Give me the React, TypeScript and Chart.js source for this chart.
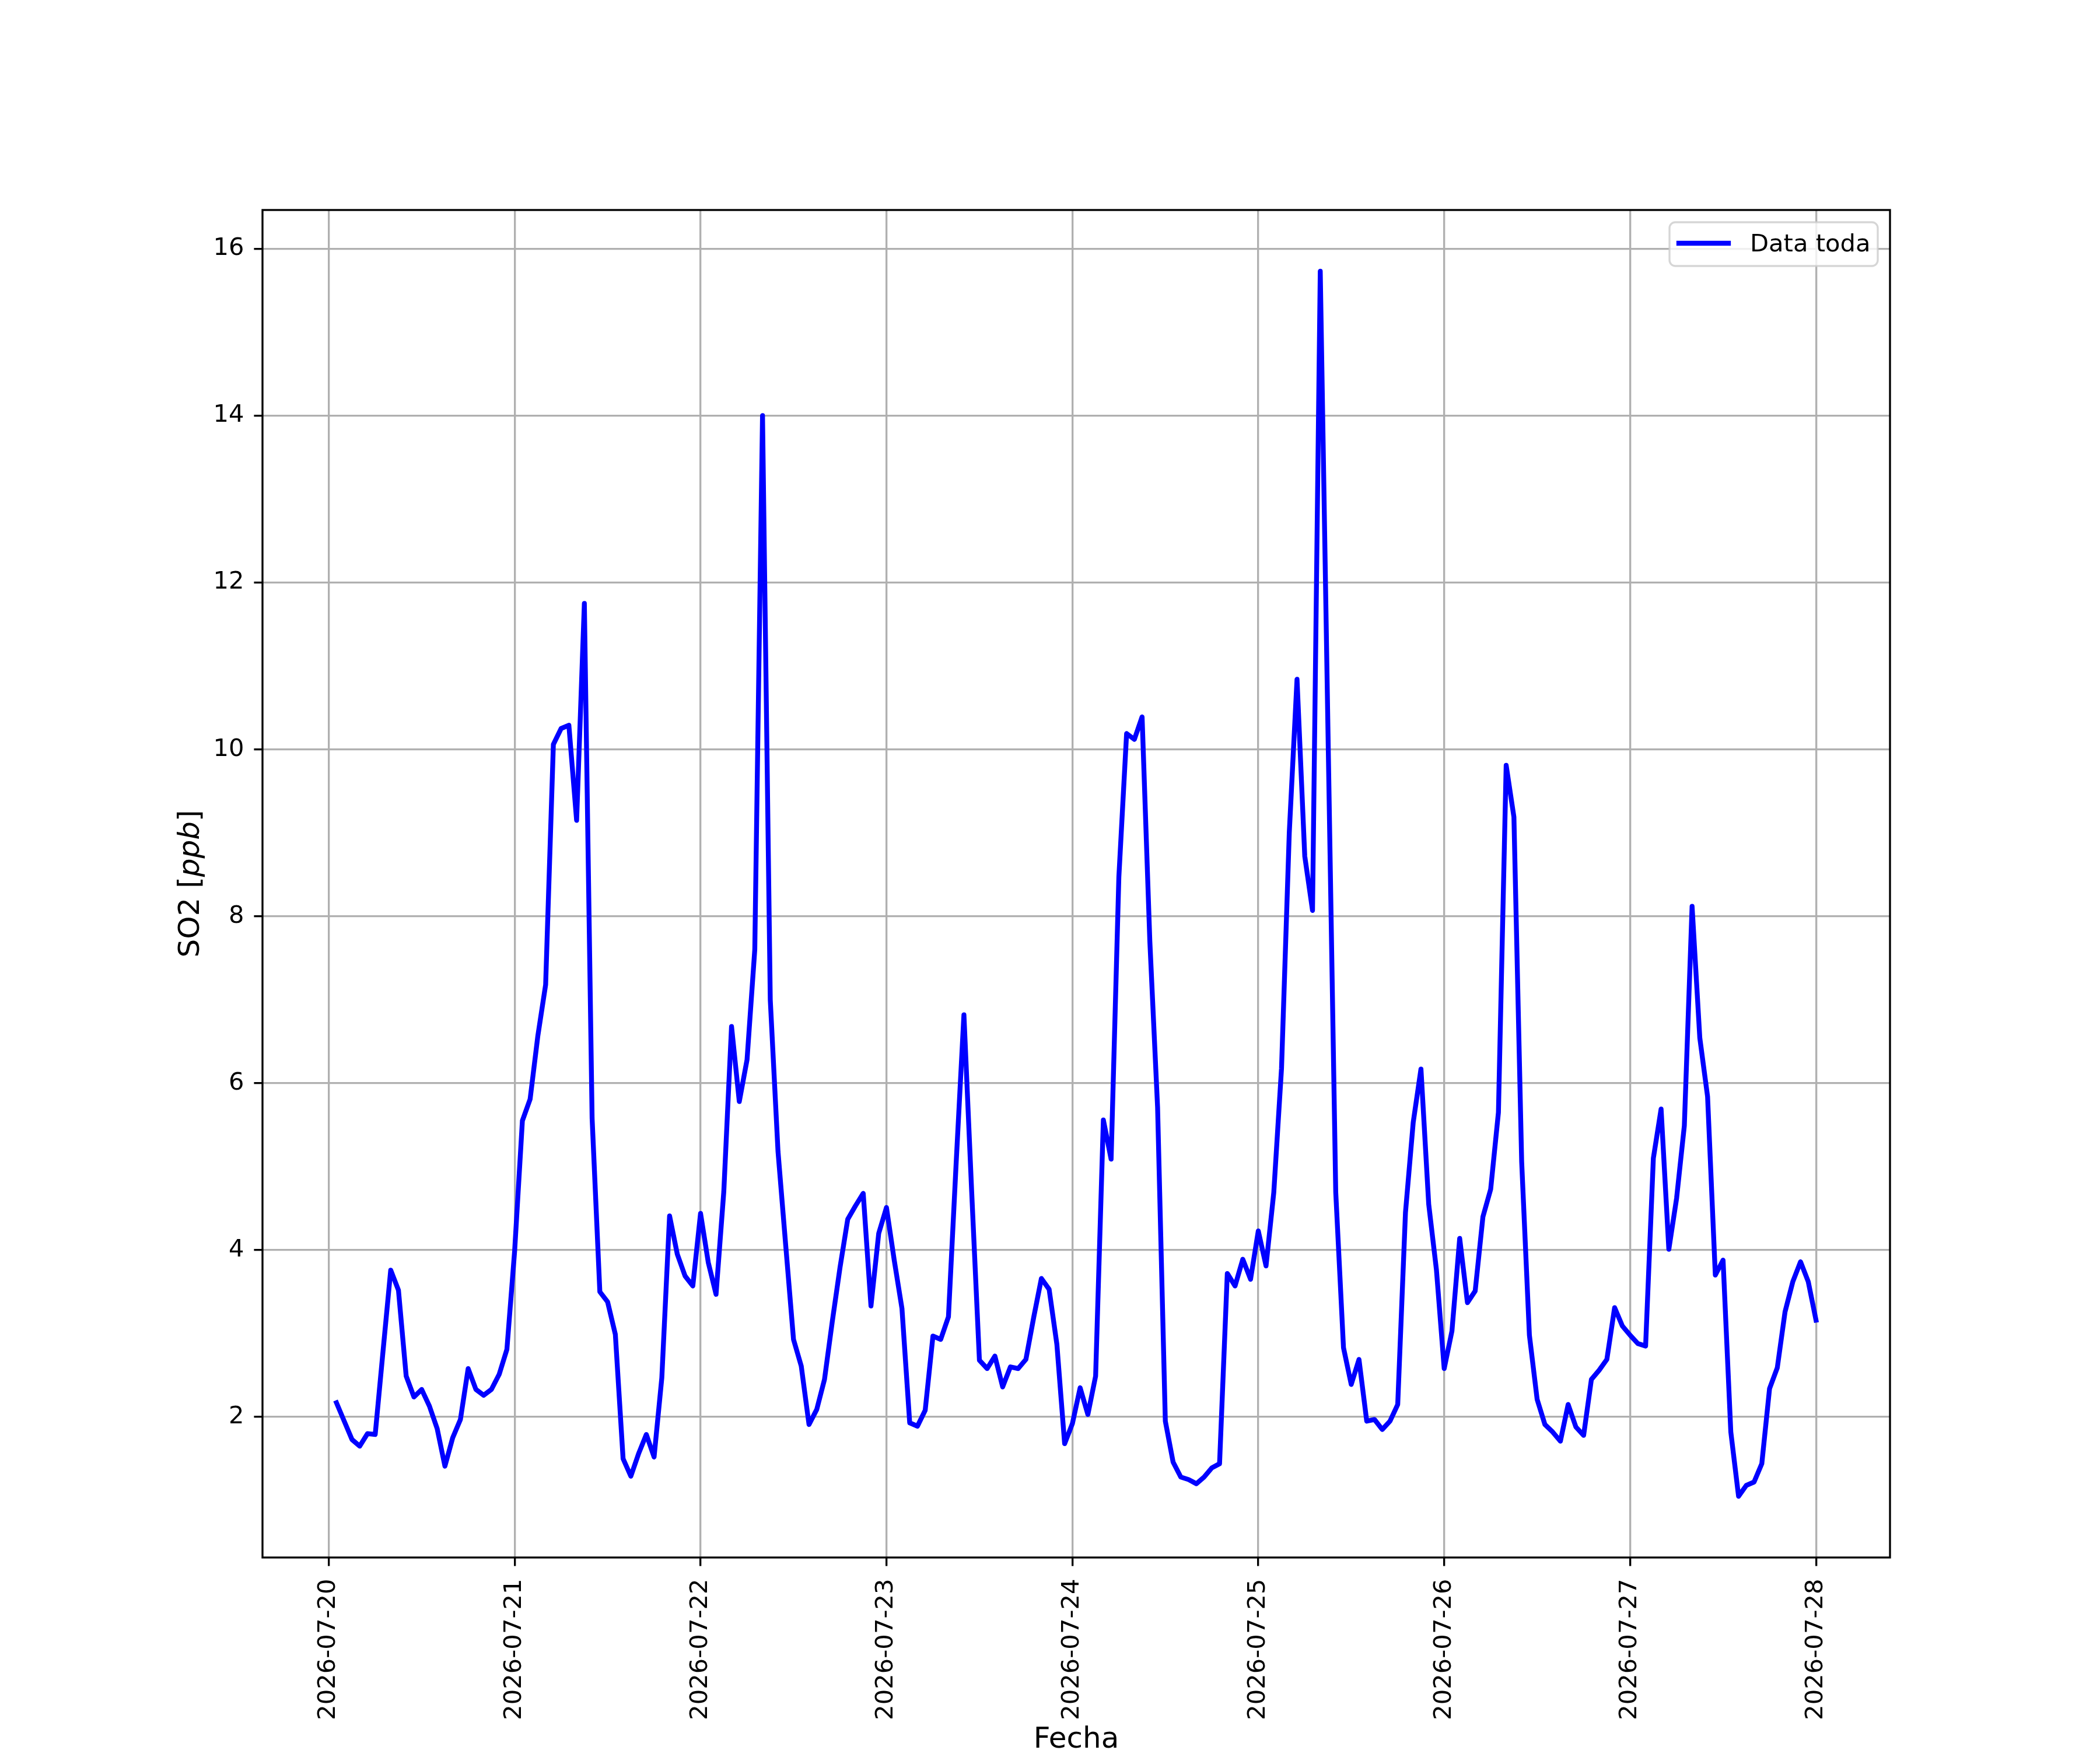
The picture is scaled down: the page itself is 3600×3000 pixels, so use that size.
import { useEffect, useRef } from 'react';
import { Chart, registerables } from 'chart.js';

Chart.register(...registerables);

// Hourly SO2 (ppb). First reading is 2026-07-20 01:00, last is 2026-07-28 00:00.
const firstHour = 1;
const so2Jul20 = [2.17, 1.95, 1.73, 1.65, 1.8, 1.79, 2.78, 3.76, 3.52, 2.49, 2.24, 2.33, 2.13, 1.86, 1.41, 1.75, 1.97, 2.58, 2.33, 2.26, 2.33, 2.51, 2.81, 3.99];
const so2Jul21 = [5.55, 5.81, 6.57, 7.18, 10.06, 10.25, 10.29, 9.15, 11.75, 5.58, 3.5, 3.38, 2.99, 1.5, 1.29, 1.56, 1.79, 1.52, 2.47, 4.41, 3.95, 3.69, 3.57, 4.44];
const so2Jul22 = [3.85, 3.47, 4.7, 6.68, 5.78, 6.28, 7.6, 14.0, 7.0, 5.18, 4.05, 2.93, 2.61, 1.91, 2.09, 2.45, 3.14, 3.79, 4.37, 4.53, 4.68, 3.33, 4.2, 4.51];
const so2Jul23 = [3.88, 3.3, 1.93, 1.89, 2.08, 2.97, 2.93, 3.2, 5.05, 6.82, 4.7, 2.68, 2.58, 2.73, 2.36, 2.6, 2.58, 2.69, 3.19, 3.66, 3.53, 2.87, 1.68, 1.92];
const so2Jul24 = [2.35, 2.03, 2.49, 5.56, 5.09, 8.47, 10.19, 10.12, 10.39, 7.7, 5.71, 1.95, 1.46, 1.28, 1.25, 1.2, 1.28, 1.39, 1.44, 3.72, 3.57, 3.89, 3.65, 4.23];
const so2Jul25 = [3.81, 4.69, 6.18, 9.0, 10.84, 8.72, 8.07, 15.73, 10.2, 4.69, 2.83, 2.39, 2.69, 1.95, 1.97, 1.85, 1.95, 2.15, 4.45, 5.53, 6.17, 4.55, 3.76, 2.58];
const so2Jul26 = [3.03, 4.14, 3.37, 3.51, 4.4, 4.73, 5.65, 9.81, 9.19, 5.06, 2.98, 2.21, 1.91, 1.82, 1.71, 2.15, 1.88, 1.78, 2.45, 2.56, 2.69, 3.31, 3.09, 2.98];
const so2Jul27 = [2.88, 2.85, 5.1, 5.69, 4.01, 4.62, 5.49, 8.12, 6.54, 5.84, 3.7, 3.88, 1.82, 1.05, 1.18, 1.22, 1.44, 2.34, 2.59, 3.26, 3.62, 3.86, 3.62, 3.16];

const dayLabels = ['2026-07-20', '2026-07-21', '2026-07-22', '2026-07-23', '2026-07-24', '2026-07-25', '2026-07-26', '2026-07-27', '2026-07-28'];
const dayTicks = [0, 24, 48, 72, 96, 120, 144, 168, 192]; // hours since 2026-07-20 00:00
const yTicks = [2, 4, 6, 8, 10, 12, 14, 16];

const seriesLabel = 'Data toda';

const so2 = [...so2Jul20, ...so2Jul21, ...so2Jul22, ...so2Jul23, ...so2Jul24, ...so2Jul25, ...so2Jul26, ...so2Jul27];

// matplotlib-ish sizes at 300 dpi
const PT = 300 / 72;
const FONT = "'DejaVu Sans', sans-serif";
const TICK_SIZE = 10 * PT;
const LABEL_SIZE = 12 * PT;
const LINE_W = 2 * PT;
const SPINE_W = 0.8 * PT;

const figurePlugin = {
  id: 'figure',
  afterDraw(chart: Chart) {
    const { ctx, chartArea } = chart;
    const { left, right, top, bottom } = chartArea;
    ctx.save();

    // spines
    ctx.strokeStyle = '#000';
    ctx.lineWidth = SPINE_W;
    ctx.strokeRect(left, top, right - left, bottom - top);

    // x label
    ctx.fillStyle = '#000';
    ctx.font = `${LABEL_SIZE}px ${FONT}`;
    ctx.textAlign = 'center';
    ctx.textBaseline = 'alphabetic';
    ctx.fillText('Fecha', (left + right) / 2, 2996);

    // y label: SO2 [ppb] with italic ppb
    const parts = [
      { t: 'SO2 [', f: `${LABEL_SIZE}px ${FONT}` },
      { t: 'ppb', f: `italic ${LABEL_SIZE}px ${FONT}` },
      { t: ']', f: `${LABEL_SIZE}px ${FONT}` },
    ];
    let total = 0;
    parts.forEach((p) => {
      ctx.font = p.f;
      total += ctx.measureText(p.t).width;
    });
    ctx.translate(341, (top + bottom) / 2);
    ctx.rotate(-Math.PI / 2);
    ctx.textAlign = 'left';
    let x = -total / 2;
    parts.forEach((p) => {
      ctx.font = p.f;
      ctx.fillText(p.t, x, 0);
      x += ctx.measureText(p.t).width;
    });
    ctx.setTransform(1, 0, 0, 1, 0, 0);

    // legend
    const bx = 2862, by = 381, bw = 357, bh = 75, r = 10;
    ctx.beginPath();
    ctx.roundRect(bx, by, bw, bh, r);
    ctx.fillStyle = 'rgba(255,255,255,0.8)';
    ctx.fill();
    ctx.strokeStyle = 'rgba(204,204,204,0.8)';
    ctx.lineWidth = SPINE_W;
    ctx.stroke();

    const ds = chart.data.datasets[0] as any;
    ctx.beginPath();
    ctx.moveTo(2878, 417);
    ctx.lineTo(2963, 417);
    ctx.strokeStyle = ds.borderColor;
    ctx.lineWidth = LINE_W;
    ctx.lineCap = 'square';
    ctx.stroke();

    ctx.fillStyle = '#000';
    ctx.font = `${TICK_SIZE}px ${FONT}`;
    ctx.textAlign = 'left';
    ctx.textBaseline = 'alphabetic';
    ctx.fillText(ds.label, 3000, 431);

    ctx.restore();
  },
};

export default function App() {
  const canvasRef = useRef<HTMLCanvasElement>(null);
  const chartRef = useRef<Chart | null>(null);

  useEffect(() => {
    if (!canvasRef.current) return;
    if (chartRef.current) chartRef.current.destroy();

    const points = so2.map((v, i) => ({ x: firstHour + i, y: v }));
    const xFirst = firstHour;
    const xLast = firstHour + so2.length - 1;
    const xPad = 0.05 * (xLast - xFirst);
    const yMinV = Math.min(...so2);
    const yMaxV = Math.max(...so2);
    const yPad = 0.05 * (yMaxV - yMinV);

    chartRef.current = new Chart(canvasRef.current, {
      type: 'line',
      data: {
        datasets: [
          {
            label: seriesLabel,
            data: points,
            borderColor: '#0000ff',
            borderWidth: LINE_W,
            pointRadius: 0,
            tension: 0,
            fill: false,
            borderCapStyle: 'square',
            borderJoinStyle: 'round',
          },
        ],
      },
      options: {
        animation: false,
        responsive: false,
        devicePixelRatio: 1,
        events: [],
        layout: { padding: { left: 0, right: 360, top: 360, bottom: 0 } },
        plugins: {
          legend: { display: false },
          tooltip: { enabled: false },
        },
        scales: {
          x: {
            type: 'linear',
            min: xFirst - xPad,
            max: xLast + xPad,
            afterFit: (scale: any) => {
              scale.height = 330;
            },
            afterBuildTicks: (scale: any) => {
              scale.ticks = dayTicks.map((value) => ({ value }));
            },
            grid: {
              color: '#b0b0b0',
              lineWidth: SPINE_W,
              tickColor: '#000',
              tickWidth: SPINE_W,
              tickLength: 3.5 * PT,
            },
            border: { display: false },
            ticks: {
              autoSkip: false,
              minRotation: 90,
              maxRotation: 90,
              padding: 22,
              color: '#000',
              font: { family: FONT, size: TICK_SIZE },
              callback: (_v: any, i: number) => dayLabels[i],
            },
          },
          y: {
            type: 'linear',
            min: yMinV - yPad,
            max: yMaxV + yPad,
            afterFit: (scale: any) => {
              scale.width = 450;
            },
            afterBuildTicks: (scale: any) => {
              scale.ticks = yTicks.map((value) => ({ value }));
            },
            grid: {
              color: '#b0b0b0',
              lineWidth: SPINE_W,
              tickColor: '#000',
              tickWidth: SPINE_W,
              tickLength: 3.5 * PT,
            },
            border: { display: false },
            ticks: {
              padding: 17,
              color: '#000',
              font: { family: FONT, size: TICK_SIZE },
              callback: (v: any) => String(v),
            },
          },
        },
      },
      plugins: [figurePlugin],
    });

    return () => {
      if (chartRef.current) {
        chartRef.current.destroy();
        chartRef.current = null;
      }
    };
  }, []);

  return (
    <div style={{ position: 'absolute', left: 0, top: 0, width: 3600, height: 3000, background: '#fff' }}>
      <canvas ref={canvasRef} width={3600} height={3000} style={{ width: 3600, height: 3000 }}></canvas>
    </div>
  );
}
